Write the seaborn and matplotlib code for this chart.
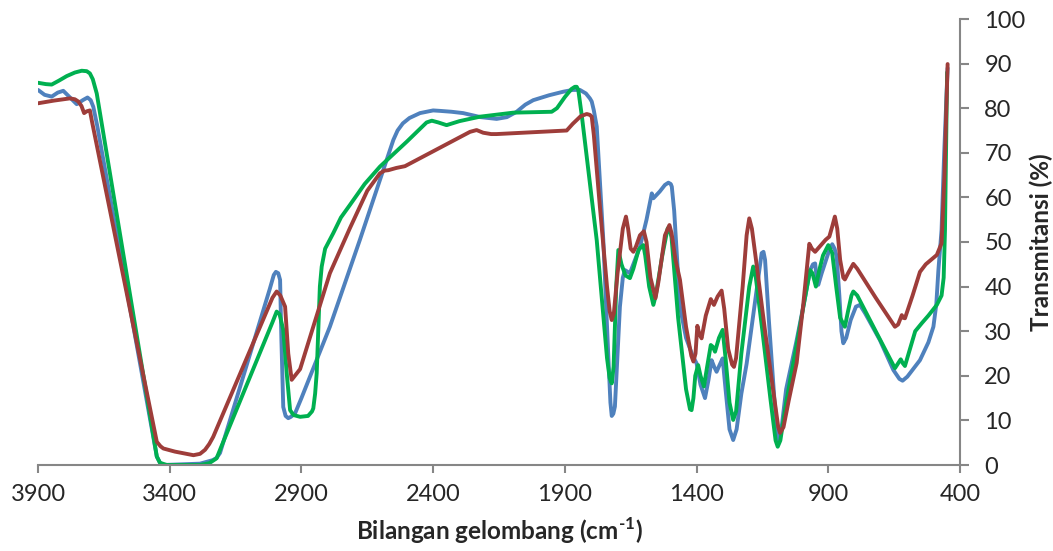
import numpy as np
import pandas as pd
import matplotlib
matplotlib.use("Agg")
import matplotlib.pyplot as plt
import seaborn as sns

# wavenumber (cm-1) and transmittance (%)
blue_x = [3900, 3875, 3848, 3825, 3804, 3780, 3753, 3730, 3712, 3700, 3690,
          3675, 3449, 3437, 3424, 3285, 3236, 3222, 3209, 3020, 3005, 2997,
          2988, 2981, 2976, 2969, 2960, 2950, 2940, 2924, 2900, 2792, 2678,
          2600, 2551, 2535, 2515, 2490, 2450, 2400, 2374, 2330, 2286, 2220,
          2159, 2120, 2083, 2050, 2020, 1960, 1906, 1870, 1843, 1820, 1805,
          1798, 1790, 1779, 1754, 1735, 1727, 1722, 1716, 1710, 1700, 1691,
          1680, 1672, 1653, 1615, 1590, 1570, 1564, 1540, 1520, 1507, 1498,
          1494, 1485, 1463, 1440, 1415, 1400, 1385, 1368, 1355, 1343, 1333,
          1324, 1312, 1301, 1290, 1275, 1261, 1248, 1230, 1210, 1170, 1153,
          1146, 1140, 1125, 1105, 1090, 1078, 1060, 1020, 990, 969, 958, 950,
          944, 938, 925, 900, 885, 876, 868, 858, 850, 843, 832, 815, 795,
          780, 760, 704, 653, 630, 618, 600, 552, 520, 501, 490, 482, 470,
          460, 447]
blue_y = [84.1, 83.0, 82.6, 83.5, 83.9, 82.5, 80.9, 81.8, 82.4, 81.8, 80.3,
          76.0, 1.9, 0.5, 0.0, 0.3, 1.1, 1.6, 2.7, 39.5, 42.6, 43.3,
          43.0, 41.5, 28.0, 13.0, 11.0, 10.5, 10.8, 11.6, 15.0, 31.0, 50.5,
          64.3, 72.9, 75.0, 76.6, 77.8, 78.9, 79.5, 79.4, 79.2, 78.9, 78.0,
          77.6, 78.0, 79.2, 80.8, 81.8, 82.9, 83.7, 84.1, 84.1, 83.3, 82.2,
          81.5, 79.5, 75.9, 50.4, 24.3, 14.0, 11.0, 11.5, 13.1, 25.0, 35.5,
          42.0, 43.7, 43.0, 48.9, 55.0, 60.9, 59.8, 61.3, 62.8, 63.3, 63.0,
          62.4, 57.0, 35.5, 28.5, 24.5, 22.8, 18.0, 15.0, 19.0, 23.5, 22.0,
          20.9, 22.5, 23.9, 17.0, 8.0, 5.6, 8.0, 16.0, 22.7, 40.0, 47.5,
          47.8, 46.0, 32.0, 15.0, 5.6, 8.0, 17.0, 28.0, 37.0, 43.7, 45.0, 45.2,
          42.0, 40.4, 43.0, 47.5, 49.5, 48.5, 46.7, 38.0, 30.0, 27.3, 28.5,
          32.5, 35.5, 35.9, 34.0, 28.0, 21.3, 19.3, 18.9, 19.8, 23.5, 27.5,
          31.0, 36.0, 43.7, 52.7, 70.0, 89.0]

red_x = [3900, 3840, 3779, 3760, 3747, 3735, 3725, 3715, 3703, 3695, 3449,
         3435, 3424, 3380, 3310, 3285, 3266, 3250, 3235, 3010, 2994, 2980,
         2962, 2950, 2937, 2925, 2905, 2792, 2716, 2650, 2602, 2585, 2570,
         2540, 2507, 2260, 2235, 2210, 2180, 2159, 1893, 1870, 1840, 1817,
         1805, 1798, 1790, 1767, 1740, 1730, 1722, 1714, 1700, 1680, 1668,
         1660, 1650, 1640, 1630, 1615, 1600, 1590, 1575, 1556, 1545, 1520,
         1503, 1495, 1480, 1463, 1440, 1420, 1412, 1404, 1397, 1390, 1381,
         1365, 1346, 1340, 1334, 1320, 1305, 1295, 1280, 1265, 1258, 1250,
         1225, 1210, 1200, 1190, 1170, 1140, 1110, 1090, 1083, 1070, 1050,
         1020, 995, 980, 972, 962, 950, 935, 910, 896, 885, 875, 866, 855,
         843, 837, 825, 805, 790, 720, 647, 635, 621, 615, 609, 580, 552,
         530, 500, 488, 470, 459, 447]
red_y = [81.1, 81.7, 82.2, 82.0, 81.5, 80.5, 78.9, 79.3, 79.5, 77.0, 5.2,
         4.2, 3.7, 3.0, 2.2, 2.5, 3.4, 4.7, 6.3, 37.5, 38.9, 38.0,
         35.5, 25.0, 19.1, 20.0, 21.5, 43.0, 53.1, 61.5, 65.4, 66.0, 66.1,
         66.6, 67.0, 74.7, 75.1, 74.5, 74.2, 74.2, 75.0, 76.5, 78.2, 78.7,
         78.5, 78.1, 74.0, 57.9, 40.0, 34.5, 32.5, 34.0, 43.0, 53.0, 55.7,
         53.0, 48.5, 47.8, 49.0, 51.5, 52.4, 50.0, 42.0, 37.4, 41.0, 51.5,
         53.8, 52.0, 46.0, 41.5, 31.0, 24.5, 23.2, 25.0, 31.2, 29.5, 28.4,
         33.5, 37.2, 36.5, 35.9, 37.8, 39.1, 35.0, 26.0, 22.5, 22.0, 24.0,
         40.0, 51.5, 55.3, 53.0, 44.0, 30.0, 17.0, 8.5, 7.2, 8.5, 14.5,
         22.9, 36.0, 45.0, 49.6, 48.5, 47.8, 48.8, 50.5, 51.2, 53.5, 55.7, 53.0,
         46.0, 42.0, 41.6, 43.0, 45.1, 44.0, 37.5, 31.0, 31.5, 33.6, 33.0, 32.9,
         38.0, 43.3, 45.0, 46.5, 47.1, 49.7, 65.0, 89.9]

green_x = [3900, 3870, 3848, 3820, 3791, 3760, 3734, 3715, 3703, 3692, 3677,
           3449, 3437, 3411, 3285, 3250, 3222, 3205, 3010, 2994, 2983, 2969,
           2955, 2943, 2930, 2905, 2875, 2860, 2855, 2848, 2842, 2830, 2823,
           2810, 2779, 2750, 2716, 2660, 2602, 2500, 2425, 2405, 2380, 2349,
           2300, 2222, 2096, 1950, 1930, 1900, 1875, 1862, 1855, 1849, 1835,
           1779, 1740, 1730, 1722, 1715, 1705, 1697, 1685, 1670, 1653, 1640,
           1620, 1602, 1595, 1580, 1564, 1555, 1530, 1510, 1504, 1495, 1470,
           1440, 1425, 1419, 1412, 1405, 1394, 1385, 1372, 1360, 1346, 1338,
           1330, 1315, 1301, 1290, 1275, 1261, 1250, 1230, 1200, 1185, 1175,
           1150, 1120, 1100, 1092, 1082, 1060, 1020, 990, 969, 960, 947, 935,
           920, 900, 885, 870, 855, 837, 825, 812, 805, 790, 720, 660, 647,
           635, 625, 617, 609, 590, 570, 545, 520, 488, 470, 462, 457, 449]
green_y = [85.7, 85.4, 85.3, 86.2, 87.2, 88.0, 88.4, 88.3, 87.8, 86.5, 83.3,
           1.9, 0.5, 0.0, 0.0, 0.4, 1.5, 4.0, 32.0, 34.4, 33.8, 30.3,
           20.0, 12.3, 11.2, 10.8, 11.0, 12.0, 12.7, 16.0, 20.6, 40.0, 44.5,
           48.5, 52.0, 55.5, 58.3, 63.0, 66.9, 72.5, 76.8, 77.2, 76.8, 76.2,
           77.1, 78.1, 79.0, 79.2, 80.0, 82.5, 84.3, 84.8, 84.8, 84.1, 78.0,
           50.4, 24.0, 19.5, 18.3, 22.0, 40.0, 48.2, 45.0, 42.5, 41.9, 44.0,
           48.3, 49.3, 47.0, 40.0, 35.9, 38.0, 47.0, 53.0, 53.4, 51.0, 33.0,
           17.0, 12.5, 12.3, 15.0, 20.0, 22.4, 20.0, 17.6, 22.0, 26.9, 26.5,
           25.4, 28.5, 30.3, 24.0, 14.0, 10.1, 12.0, 25.0, 40.0, 44.5, 42.0,
           30.0, 15.0, 5.5, 4.1, 5.5, 14.0, 27.0, 37.0, 43.7, 43.0, 40.0, 43.5,
           47.0, 49.3, 47.5, 40.0, 33.0, 31.0, 34.5, 38.0, 38.9, 38.0, 30.0,
           23.2, 21.7, 22.8, 23.7, 22.8, 22.2, 26.0, 30.0, 31.8, 33.5, 35.9,
           38.0, 42.0, 52.7, 88.0]

x_ticks = [3900, 3400, 2900, 2400, 1900, 1400, 900, 400]
y_ticks = list(range(0, 101, 10))

sns.set_style("white")
plt.rcParams['font.family'] = ['Lato', 'DejaVu Sans']
plt.rcParams['mathtext.fontset'] = 'custom'
plt.rcParams['mathtext.rm'] = 'Lato:bold'
plt.rcParams['mathtext.bf'] = 'Lato:bold'

fig = plt.figure(figsize=(10.53, 5.51), dpi=100)
ax = fig.add_axes([38 / 1053, 1 - 465 / 551, (960 - 38) / 1053, (465 - 19) / 551])

for xs, ys, c in [(blue_x, blue_y, "#4F81BD"),
                  (green_x, green_y, "#00B050"),
                  (red_x, red_y, "#9E3D3A")]:
    sns.lineplot(x=xs, y=ys, ax=ax, color=c, linewidth=2.8, sort=False,
                 estimator=None)

ax.set_xlim(3900, 400)
ax.set_ylim(0, 100)
ax.set_xticks(x_ticks)
ax.set_yticks(y_ticks)

ax.yaxis.tick_right()
ax.yaxis.set_label_position("right")
for s in ["left", "top"]:
    ax.spines[s].set_visible(False)
for s in ["bottom", "right"]:
    ax.spines[s].set_color("#868686")
    ax.spines[s].set_linewidth(1.5)

ax.tick_params(axis="x", direction="out", length=6, width=1.5, color="#868686",
               labelsize=17, pad=8, bottom=True)
ax.tick_params(axis="y", direction="out", length=6.5, width=1.5, color="#868686",
               labelsize=17, pad=11, right=True, left=False)

ax.set_xlabel(r"Bilangan gelombang (cm$^{\text{-1}}$)", fontsize=17.5,
              fontweight="bold", labelpad=7)
ax.set_ylabel("Transmitansi (%)", fontsize=17.5, fontweight="bold", labelpad=3)
ax.grid(False)

fig.savefig("out.png", dpi=100)
